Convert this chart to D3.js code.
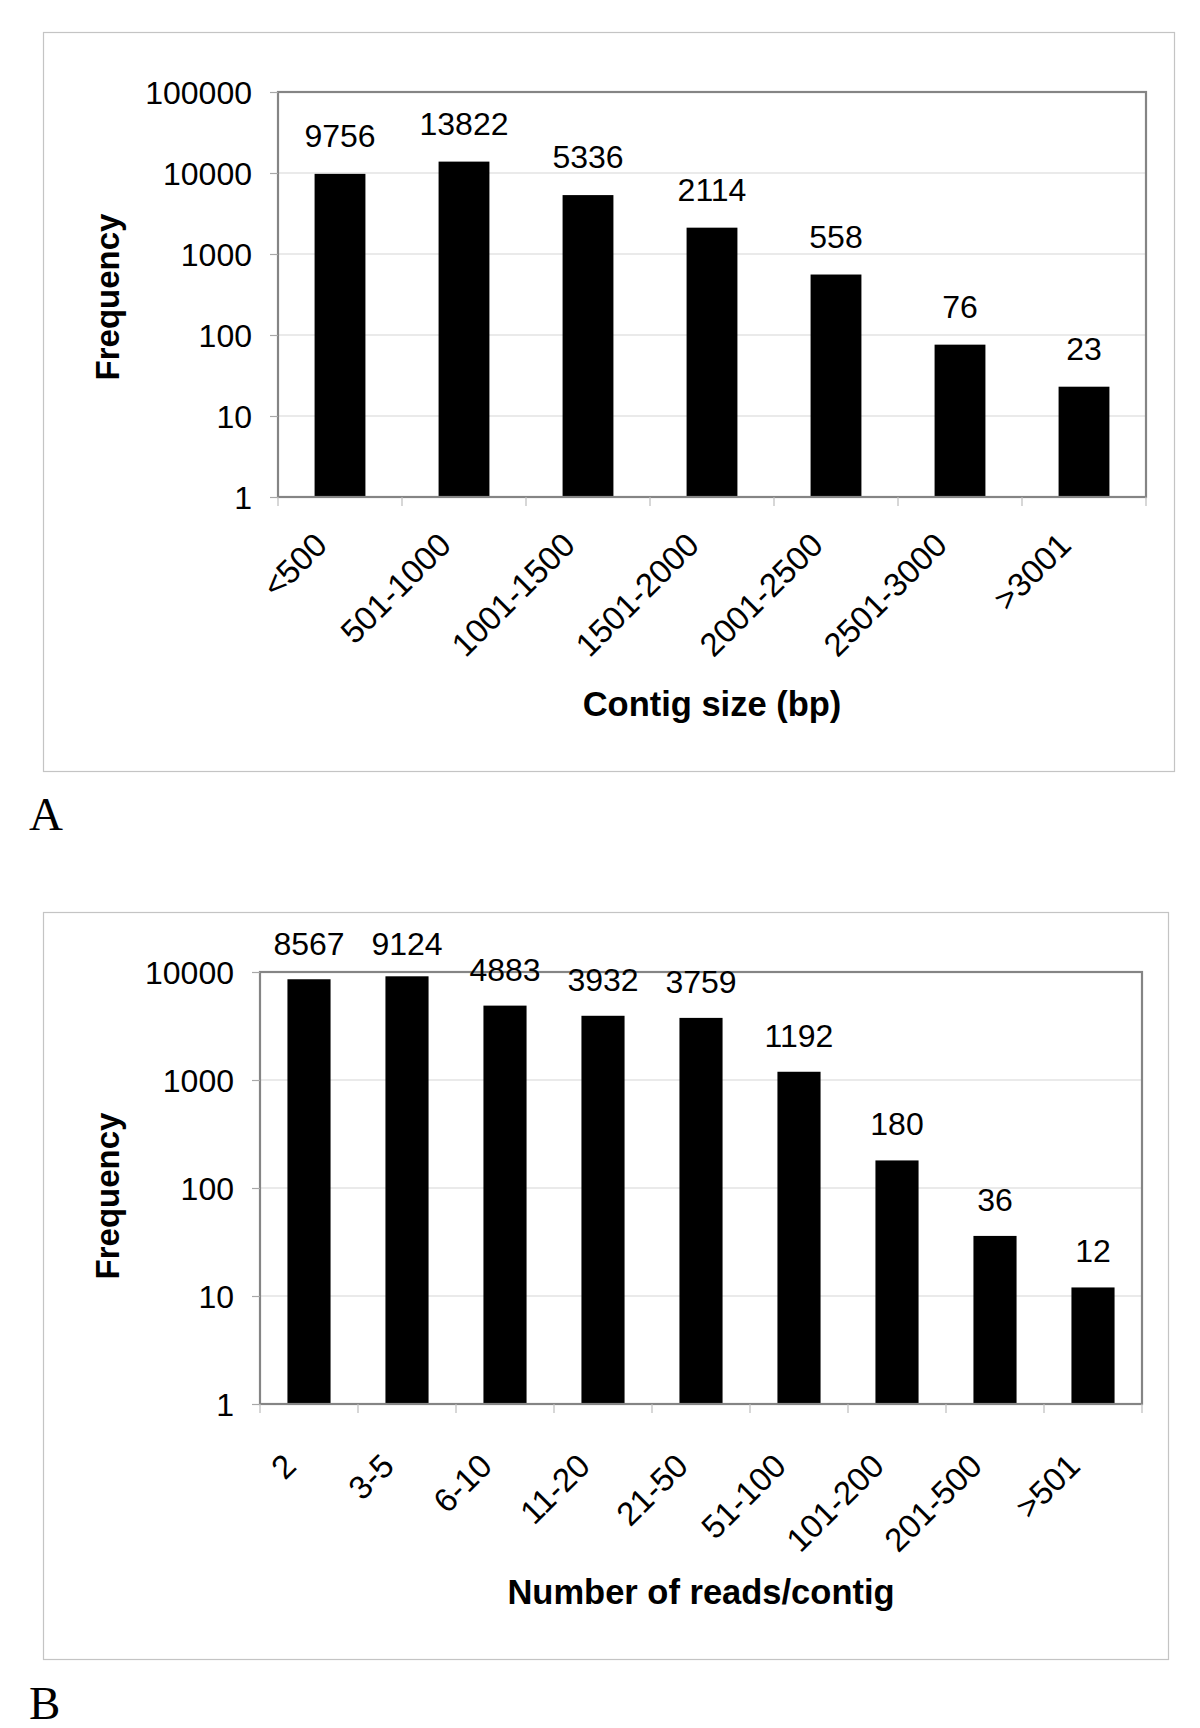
<!DOCTYPE html>
<html>
<head>
<meta charset="utf-8">
<script src="https://cdn.jsdelivr.net/npm/d3@7/dist/d3.min.js"></script>
<style>
  html, body { margin: 0; padding: 0; background: #ffffff; }
  svg { display: block; }
  text { font-family: "Liberation Sans", Arial, Helvetica, sans-serif; fill: #000; }
</style>
</head>
<body>
<svg id="chart" width="1200" height="1728"></svg>
<script>
// ---- Data ----
const contigSizeCategories = ["<500", "501-1000", "1001-1500", "1501-2000", "2001-2500", "2501-3000", ">3001"];
const contigSizeFrequency = [9756, 13822, 5336, 2114, 558, 76, 23];
const readsCategories = ["2", "3-5", "6-10", "11-20", "21-50", "51-100", "101-200", "201-500", ">501"];
const readsFrequency = [8567, 9124, 4883, 3932, 3759, 1192, 180, 36, 12];
const yTicksA = [1, 10, 100, 1000, 10000, 100000];
const yTicksB = [1, 10, 100, 1000, 10000];
const yAxisTitle = "Frequency";
const xAxisTitleA = "Contig size (bp)";
const xAxisTitleB = "Number of reads/contig";
const panelLabels = ["A", "B"];

const svg = d3.select("#chart");
svg.append("rect").attr("x", 0).attr("y", 0).attr("width", 1200).attr("height", 1728).attr("fill", "#fff");

function drawPanel(cfg) {
  const g = svg.append("g");
  // outer chart frame
  g.append("rect")
    .attr("x", cfg.frame[0] + 0.5).attr("y", cfg.frame[1] + 0.5)
    .attr("width", cfg.frame[2] - cfg.frame[0]).attr("height", cfg.frame[3] - cfg.frame[1])
    .attr("fill", "none").attr("stroke", "#c4c4c4").attr("stroke-width", 1.2);

  const x = d3.scaleBand().domain(cfg.categories).range([cfg.left, cfg.right]).padding(0);
  const y = d3.scaleLog().domain([cfg.yTicks[0], cfg.yTicks[cfg.yTicks.length - 1]]).range([cfg.bottom, cfg.top]);

  // gridlines
  g.append("g").selectAll("line").data(cfg.yTicks.slice(1, -1)).join("line")
    .attr("x1", cfg.left).attr("x2", cfg.right)
    .attr("y1", d => y(d)).attr("y2", d => y(d))
    .attr("stroke", "#d6d6d6").attr("stroke-width", 1.2);

  // bars
  const bw = x.bandwidth() * cfg.barFrac;
  g.append("g").selectAll("rect").data(cfg.values).join("rect")
    .attr("x", (d, i) => x(cfg.categories[i]) + (x.bandwidth() - bw) / 2)
    .attr("width", bw)
    .attr("y", d => y(d))
    .attr("height", d => cfg.bottom - y(d))
    .attr("fill", "#000");

  // plot border
  g.append("rect")
    .attr("x", cfg.left).attr("y", cfg.top)
    .attr("width", cfg.right - cfg.left).attr("height", cfg.bottom - cfg.top)
    .attr("fill", "none").attr("stroke", "#858585").attr("stroke-width", 2.2);

  // y axis
  const yAxis = d3.axisLeft(y).tickValues(cfg.yTicks).tickFormat(d3.format("d")).tickSize(8).tickPadding(18);
  const ya = g.append("g").attr("transform", `translate(${cfg.left},0)`).call(yAxis);
  ya.select(".domain").remove();
  ya.selectAll(".tick line").attr("stroke", "#a8a8a8").attr("stroke-width", 1.2);
  ya.selectAll(".tick text")
    .attr("font-size", 32).attr("font-family", "'Liberation Sans', Arial, sans-serif")
    .attr("fill", "#000").attr("dy", "0.36em");

  // x category boundary ticks
  const bounds = cfg.categories.map(c => x(c)).concat([cfg.right]);
  g.append("g").selectAll("line").data(bounds).join("line")
    .attr("x1", d => d).attr("x2", d => d)
    .attr("y1", cfg.bottom).attr("y2", cfg.bottom + 9)
    .attr("stroke", "#bdbdbd").attr("stroke-width", 1.2);

  // x tick labels (rotated)
  g.append("g").selectAll("text").data(cfg.categories).join("text")
    .attr("transform", d => `translate(${x(d) + x.bandwidth() / 2 - 11},${cfg.bottom + cfg.labelDy}) rotate(-45)`)
    .attr("text-anchor", "end")
    .attr("font-size", 33)
    .text(d => d);

  // value labels
  g.append("g").selectAll("text").data(cfg.values).join("text")
    .attr("x", (d, i) => x(cfg.categories[i]) + x.bandwidth() / 2)
    .attr("y", d => Math.max(y(d) - cfg.labelGap, cfg.minLabelY))
    .attr("text-anchor", "middle")
    .attr("font-size", 32)
    .text(d => d);

  // axis titles
  g.append("text")
    .attr("transform", `translate(119,${cfg.yTitleY}) rotate(-90)`)
    .attr("text-anchor", "middle").attr("font-weight", "bold").attr("font-size", 33)
    .text(yAxisTitle);
  g.append("text")
    .attr("x", (cfg.left + cfg.right) / 2).attr("y", cfg.xTitleY)
    .attr("text-anchor", "middle").attr("font-weight", "bold").attr("font-size", 34.5)
    .text(cfg.xTitle);

  // panel label
  g.append("text")
    .attr("x", 29).attr("y", cfg.panelY)
    .style("font-family", "'Liberation Serif', 'Times New Roman', serif")
    .attr("font-size", 47)
    .text(cfg.panel);
}

drawPanel({
  categories: contigSizeCategories, values: contigSizeFrequency, yTicks: yTicksA,
  frame: [43, 32, 1174, 771],
  left: 278, right: 1146, top: 92, bottom: 497,
  barFrac: 0.41, labelDy: 50, labelGap: 27, minLabelY: 0,
  yTitleY: 297, xTitle: xAxisTitleA, xTitleY: 716,
  panel: panelLabels[0], panelY: 830
});

drawPanel({
  categories: readsCategories, values: readsFrequency, yTicks: yTicksB,
  frame: [43, 912, 1168, 1659],
  left: 260, right: 1142, top: 972, bottom: 1404,
  barFrac: 0.44, labelDy: 64, labelGap: 25, minLabelY: 955,
  yTitleY: 1196, xTitle: xAxisTitleB, xTitleY: 1604,
  panel: panelLabels[1], panelY: 1719
});
</script>
</body>
</html>
